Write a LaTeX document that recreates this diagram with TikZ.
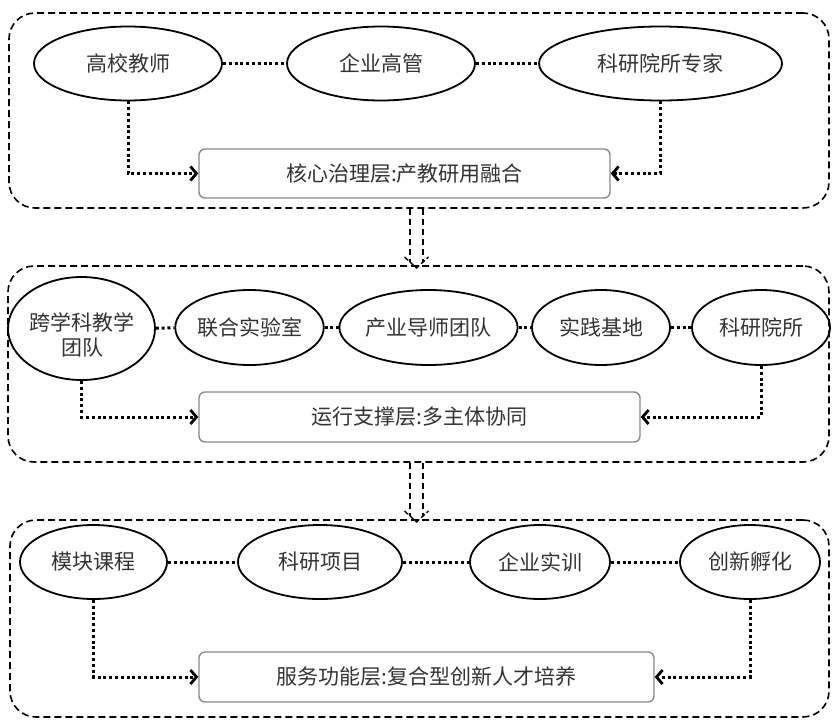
\documentclass[tikz,border=0pt]{standalone}
\usepackage{fontspec}
\setmainfont{Noto Sans CJK SC}
\usetikzlibrary{shapes.geometric,arrows.meta,calc}
\definecolor{txt}{HTML}{333333}
\definecolor{boxline}{HTML}{8A8A8A}
\begin{document}
\begin{tikzpicture}[x=1pt,y=-1pt,
  font=\fontsize{21pt}{25pt}\selectfont,
  layerbox/.style={draw=black, line width=1.6pt, dash pattern=on 7pt off 4pt, rounded corners=26pt, inner sep=0pt},
  oval/.style={ellipse, draw=black, line width=1.8pt, inner sep=0pt, text=txt},
  core/.style={draw=boxline, line width=1.4pt, rounded corners=6pt, fill=white, text=txt, inner sep=0pt},
  dotline/.style={line width=3pt, dash pattern=on 3pt off 2.8pt, black},
  dotarrow/.style={dotline, -{Straight Barb[length=6pt,width=14pt,line width=2.8pt]}},
  dblline/.style={line width=1.4pt, dash pattern=on 6pt off 4pt, black},
  dblhead/.style={line width=1.4pt, dash pattern=on 5pt off 2.5pt, black}
]
\useasboundingbox (0,0) rectangle (837,723);

% layers
\node[layerbox, minimum width=820, minimum height=195] (L1) at (419,110.5) {};
\node[layerbox, minimum width=821, minimum height=196] (L2) at (418.5,364) {};
\node[layerbox, minimum width=819, minimum height=197] (L3) at (419.5,618.5) {};

% layer 1
\node[oval, minimum width=188, minimum height=74] (a1) at (128,63.5) {高校教师};
\node[oval, minimum width=188, minimum height=74] (a2) at (381,63.5) {企业高管};
\node[oval, minimum width=243, minimum height=74] (a3) at (660.5,63.5) {科研院所专家};
\node[core, minimum width=411, minimum height=49] (c1) at (404.5,173.5) {核心治理层:产教研用融合};
\draw[dotline] (a1) -- (a2);
\draw[dotline] (a2) -- (a3);
\draw[dotarrow] (a1.south) |- (c1.west);
\draw[dotarrow] (a3.south) |- (c1.east);

% layer 2
\node[oval, minimum width=147, minimum height=103] (b1) at (81.5,328.5) {};
\node[text=txt, align=center, inner sep=0pt] (b1t) at (82,335) {跨学科教学\\团队};
\node[oval, minimum width=145, minimum height=75] (b2) at (249.5,327.5) {联合实验室};
\node[oval, minimum width=163, minimum height=75] (b3) at (428.5,327.5) {产业导师团队};
\node[oval, minimum width=138, minimum height=75] (b4) at (601,327.5) {实践基地};
\node[oval, minimum width=138, minimum height=75] (b5) at (761,327.5) {科研院所};
\node[core, minimum width=441, minimum height=50] (c2) at (419.5,417) {运行支撑层:多主体协同};
\draw[dotline] (b1) -- (b2);
\draw[dotline] (b2) -- (b3);
\draw[dotline] (b3) -- (b4);
\draw[dotline] (b4) -- (b5);
\draw[dotarrow] (b1.south) |- (c2.west);
\draw[dotarrow] (b5.south) |- (c2.east);

% layer 3
\node[oval, minimum width=147, minimum height=74] (e1) at (93.5,562) {模块课程};
\node[oval, minimum width=164, minimum height=74] (e2) at (320,562) {科研项目};
\node[oval, minimum width=140, minimum height=74] (e3) at (540,562) {企业实训};
\node[oval, minimum width=140, minimum height=74] (e4) at (750,562) {创新孵化};
\node[core, minimum width=455, minimum height=50] (c3) at (426.5,677) {服务功能层:复合型创新人才培养};
\draw[dotline] (e1) -- (e2);
\draw[dotline] (e2) -- (e3);
\draw[dotline] (e3) -- (e4);
\draw[dotarrow] (e1.south) |- (c3.west);
\draw[dotarrow] (e4.south) |- (c3.east);

% double arrows between layers
\coordinate (d1s) at (416.5,208.5);
\coordinate (d1e) at (416.5,268);
\coordinate (d2s) at (416.5,462.5);
\coordinate (d2e) at (416.5,522);
\draw[dblline] ($(d1s)+(-6.5,0)$) -- ($(d1e)+(-6.5,-6)$);
\draw[dblline] ($(d1s)+(6.5,0)$) -- ($(d1e)+(6.5,-6)$);
\draw[dblhead] ($(d1e)+(-12,-11)$) -- (d1e) -- ($(d1e)+(12,-11)$);
\draw[dblline] ($(d2s)+(-6.5,0)$) -- ($(d2e)+(-6.5,-6)$);
\draw[dblline] ($(d2s)+(6.5,0)$) -- ($(d2e)+(6.5,-6)$);
\draw[dblhead] ($(d2e)+(-12,-11)$) -- (d2e) -- ($(d2e)+(12,-11)$);
\end{tikzpicture}
\end{document}
